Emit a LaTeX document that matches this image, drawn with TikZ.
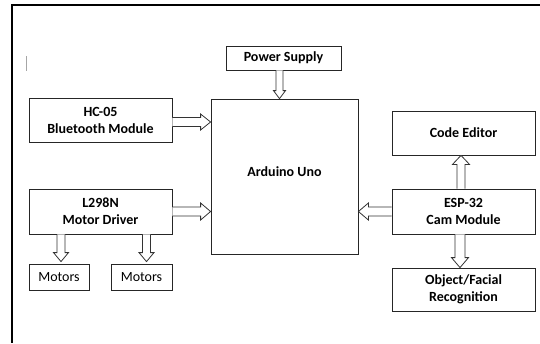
\documentclass[tikz,border=0pt]{standalone}
\usepackage{fontspec}
\setmainfont{Carlito}
\usetikzlibrary{calc}
\tikzset{
  box/.style={draw=black!85, line width=0.8pt, inner sep=0pt, align=center,
    font=\fontsize{14}{17}\selectfont\bfseries},
  plainbox/.style={box, font=\fontsize{14}{17}\selectfont},
  arr/.style={draw=black!80, line width=0.8pt, fill=white, line join=miter},
}
% hollow block arrow: start, end, half shaft, half head, head length
\newcommand\harr[5]{%
  \coordinate (hbase) at ($(#2)!#5!(#1)$);
  \draw[arr] ($(#1)!#3!90:(#2)$) -- ($(hbase)!#3!90:(#2)$) -- ($(hbase)!#4!90:(#2)$)
    -- (#2) -- ($(hbase)!#4!-90:(#2)$) -- ($(hbase)!#3!-90:(#2)$) -- ($(#1)!#3!-90:(#2)$);
}
\begin{document}
\begin{tikzpicture}[x=1pt,y=-1pt]
\useasboundingbox (0,0) rectangle (540,343);
% frame
\coordinate (fTL) at (12,5);
\coordinate (fTR) at (540,5);
\coordinate (fBL) at (12,343);
\draw[line width=1.6pt] (fTR) -- (fTL) -- (fBL);
\coordinate (tickA) at (26,56);
\coordinate (tickB) at (26,71);
\draw[black!35, line width=0.9pt] (tickA) -- (tickB);

% boxes
\node[box, minimum width=115pt, minimum height=24pt] (ps) at (283.5,58) {Power Supply};
\node[box, minimum width=147pt, minimum height=155pt] (ard) at (284.5,176.5) {};
\node[font=\fontsize{14}{17}\selectfont\bfseries, inner sep=0pt] (ardtxt) at (284.5,171.5) {Arduino Uno};
\node[box, minimum width=143pt, minimum height=44pt] (hc) at (100.5,120) {HC-05\\Bluetooth Module};
\node[box, minimum width=143pt, minimum height=45pt] (l298) at (100.5,211.5) {L298N\\Motor Driver};
\node[plainbox, minimum width=60pt, minimum height=26pt] (m1) at (59,277) {Motors};
\node[plainbox, minimum width=61pt, minimum height=26pt] (m2) at (141.5,277) {Motors};
\node[box, minimum width=143pt, minimum height=44pt] (ce) at (463.5,133) {Code Editor};
\node[box, minimum width=143pt, minimum height=45pt] (esp) at (463.5,211.5) {ESP-32\\Cam Module};
\node[box, minimum width=143pt, minimum height=43pt] (obj) at (463.5,289.5) {Object/Facial\\Recognition};

% arrows
\coordinate (psA) at ($(ps.south)+(-4,0)$);
\coordinate (psB) at (psA |- ard.north);
\harr{psA}{psB}{3.5pt}{6pt}{8pt}

\coordinate (hcA) at ($(hc.east)+(0,2)$);
\coordinate (hcB) at (hcA -| ard.west);
\harr{hcA}{hcB}{4.5pt}{8pt}{10pt}

\coordinate (lA) at (l298.east);
\coordinate (lB) at (lA -| ard.west);
\harr{lA}{lB}{4.5pt}{8.5pt}{10pt}

\coordinate (eA) at (esp.west);
\coordinate (eB) at (eA -| ard.east);
\harr{eA}{eB}{4.5pt}{8.5pt}{10pt}

\coordinate (m1B) at ($(m1.north)+(2,-2)$);
\coordinate (m1A) at (m1B |- l298.south);
\harr{m1A}{m1B}{4pt}{7.5pt}{9pt}

\coordinate (m2B) at ($(m2.north)+(5,-2)$);
\coordinate (m2A) at (m2B |- l298.south);
\harr{m2A}{m2B}{4pt}{7.5pt}{9pt}

\coordinate (ceB) at ($(ce.south)+(-2.5,0)$);
\coordinate (ceA) at (ceB |- esp.north);
\harr{ceA}{ceB}{4pt}{8.5pt}{9pt}

\coordinate (obB) at ($(obj.north)+(-3.5,0)$);
\coordinate (obA) at (obB |- esp.south);
\harr{obA}{obB}{5pt}{8.5pt}{10pt}
\end{tikzpicture}
\end{document}
